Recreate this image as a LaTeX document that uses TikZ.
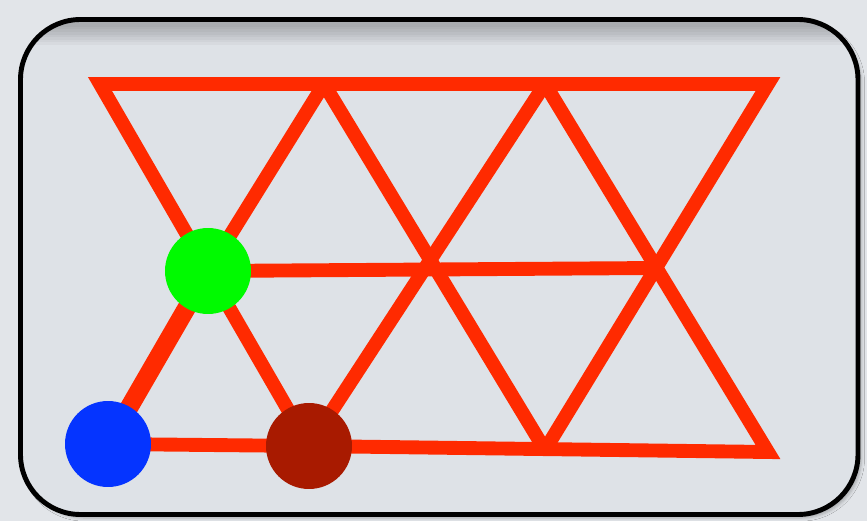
\documentclass[tikz,border=0pt]{standalone}
\usepackage{tikz}
\usetikzlibrary{shadows.blur,positioning}

\definecolor{pagebg}{RGB}{226,229,233}
\definecolor{panelbg}{RGB}{222,226,231}
\definecolor{latred}{RGB}{255,42,0}
\definecolor{dotgreen}{RGB}{0,250,0}
\definecolor{dotblue}{RGB}{5,52,255}
\definecolor{dotbrown}{RGB}{168,26,0}

\begin{document}
\begin{tikzpicture}[x=0.02cm, y=-0.02cm,
    lattice/.style={latred, line width=7.9pt},
    bond/.style={latred, line width=10.5pt},
    dot/.style={circle, minimum size=1.72cm, inner sep=0pt}]
    \fill[pagebg] (0,0) rectangle (867,521);
    \useasboundingbox (0,0) rectangle (867,521);

    % panel with shadow
    \fill[panelbg, rounded corners=1.2cm, blur shadow={shadow xshift=2pt, shadow yshift=-2pt, shadow opacity=25}] (20.5,19.5) rectangle (858,514.5);
    \begin{scope}
      \clip[rounded corners=1.2cm] (20.5,19.5) rectangle (858,514.5);
      \foreach \k in {1,...,8} {
        \draw[black, opacity=0.03, line width=\k*3pt] (-30,24) rectangle (910,640);
      }
    \end{scope}
    \draw[black, line width=2.8pt, rounded corners=1.2cm] (20.5,19.5) rectangle (858,514.5);

    % lattice points
    \coordinate (a1) at (100,84);
    \coordinate (a2) at (324,84);
    \coordinate (a3) at (545,84);
    \coordinate (a4) at (768,84);
    \coordinate (b1) at (208,271);
    \coordinate (b2) at (432,268);
    \coordinate (b3) at (655,268);
    \coordinate (c1) at (108,444);
    \coordinate (c2) at (309,446);
    \coordinate (c3) at (545,450);
    \coordinate (c4) at (768,452);

    % red lattice
    \draw[lattice] (b1) -- (a1) -- (a4) -- (c3);
    \draw[lattice] (a3) -- (c4) -- (c2);
    \draw[lattice] (a2) -- (c3);
    \draw[lattice] (a3) -- (c2);
    \draw[lattice] (a2) -- (b1) -- (c2);
    \draw[lattice] (b1) -- (b3);
    \draw[bond] (c1) -- (b1);
    \draw[lattice] (c1) -- (c2);

    % dots
    \node[dot, fill=dotgreen] (green) at (b1) {};
    \node[dot, fill=dotblue] (blue) at (c1) {};
    \node[dot, fill=dotbrown] (brown) at (c2) {};
\end{tikzpicture}
\end{document}
